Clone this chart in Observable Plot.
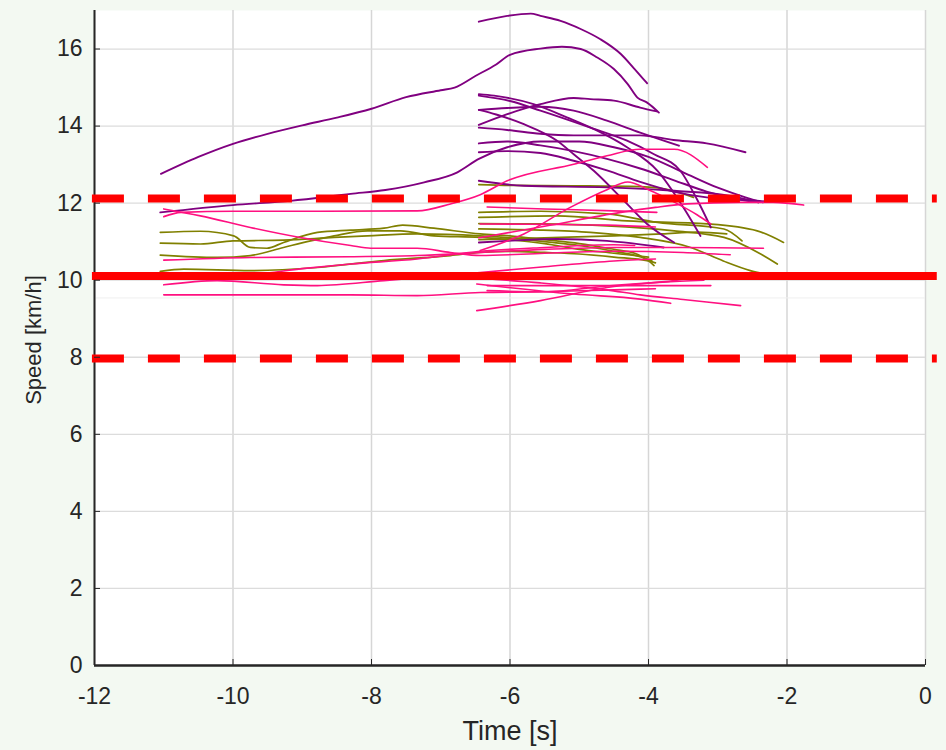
<!DOCTYPE html>
<html><head><meta charset="utf-8">
<script src="https://cdn.jsdelivr.net/npm/d3@7"></script>
<script src="https://cdn.jsdelivr.net/npm/@observablehq/plot@0.6"></script>
<style>
html,body{margin:0;padding:0;background:#f3f9f2;}
#chart svg{display:block;}
</style></head><body><div id="chart"></div>
<script>
// ---- tick labels ----
const xTicks = [-12, -10, -8, -6, -4, -2, 0];
const yTicks = [0, 2, 4, 6, 8, 10, 12, 14, 16];
const xTitle = ["Time [s]"];
const yTitle = ["Speed [km/h]"];

// ---- reference levels [km/h] ----
const meanSpeed = 10.11;
const upperBand = 12.12;
const lowerBand = 7.97;
const faintLevel = 9.54;
const refSpan = [-12.03, 0.17];

// ---- runs: [time s, speed km/h] ----
const purpleRuns = [
  [[-6.45,16.71],[-6.04,16.86],[-5.70,16.92],[-5.56,16.86],[-5.27,16.73],[-4.98,16.52],[-4.70,16.26],[-4.40,15.87],[-4.22,15.52],[-4.02,15.11]],
  [[-11.04,12.76],[-10.5,13.2],[-10,13.54],[-9.5,13.8],[-9,14.02],[-8.5,14.22],[-8,14.45],[-7.5,14.75],[-7.0,14.93],[-6.8,15.0],[-6.5,15.3],[-6.2,15.6],[-6.0,15.85],[-5.56,16.01],[-5.25,16.06],[-4.98,16.0],[-4.74,15.78],[-4.5,15.48],[-4.3,15.09],[-4.16,14.74],[-4.02,14.61],[-3.85,14.35]],
  [[-11.05,11.76],[-10,11.95],[-9.17,12.06],[-8.3,12.24],[-7.8,12.34],[-7.24,12.54],[-6.76,12.8],[-6.45,13.15],[-6.04,13.45],[-5.56,13.6],[-5.0,13.6],[-4.5,13.45],[-4.0,13.2],[-3.5,12.8],[-3.0,12.4],[-2.6,12.15],[-2.35,12.02]],
  [[-6.45,14.42],[-6.2,14.3],[-5.8,14.05],[-5.32,13.62],[-5.08,13.27],[-4.79,12.84],[-4.31,11.98],[-4.02,11.46],[-3.63,10.98]],
  [[-6.45,14.83],[-6.23,14.79],[-5.66,14.57],[-5.17,14.22],[-4.74,13.88],[-4.31,13.45],[-3.87,12.84],[-3.5,11.9],[-3.25,11.15]],
  [[-6.45,14.79],[-6.0,14.65],[-5.56,14.4],[-4.84,13.96],[-4.31,13.62],[-3.92,13.27],[-3.54,12.84],[-3.3,12.1],[-3.1,11.37]],
  [[-6.45,14.42],[-6.04,14.47],[-5.56,14.5],[-5.08,14.4],[-4.6,14.14],[-4.12,13.83],[-3.56,13.49]],
  [[-6.45,14.03],[-6.04,14.31],[-5.56,14.57],[-5.08,14.73],[-4.84,14.70],[-4.50,14.66],[-4.12,14.48],[-3.88,14.38]],
  [[-6.45,13.96],[-6.04,13.9],[-5.56,13.8],[-5.08,13.76],[-4.6,13.76],[-4.12,13.76],[-3.64,13.64],[-3.16,13.55],[-2.6,13.32]],
  [[-6.45,13.55],[-6.04,13.6],[-5.56,13.5],[-5.08,13.35],[-4.6,13.15],[-4.12,12.9],[-3.64,12.6],[-3.16,12.3],[-2.7,12.1],[-2.41,12.02]],
  [[-6.45,13.32],[-6.04,13.35],[-5.56,13.3],[-5.08,13.1],[-4.6,12.85],[-4.12,12.55],[-3.64,12.3],[-3.16,12.15],[-2.6,12.08],[-2.2,12.03]],
  [[-6.45,12.58],[-5.8,12.45],[-4.6,12.41],[-3.63,12.32],[-2.82,12.19],[-2.41,12.02]],
  [[-6.45,10.98],[-6.04,11.02],[-5.32,11.07],[-4.6,11.02],[-3.78,10.85]]
];

const oliveRuns = [
  [[-11.05,11.24],[-10.47,11.27],[-9.99,11.15],[-9.75,10.85],[-9.51,10.83],[-9.27,10.98],[-8.78,11.24],[-8.3,11.3],[-7.82,11.35],[-7.55,11.43],[-7.1,11.35],[-6.43,11.2],[-6.0,11.15],[-5.5,11.05],[-5.0,10.95],[-4.5,10.8],[-4.2,10.7],[-4.0,10.5],[-3.92,10.38]],
  [[-11.05,10.96],[-10.47,10.94],[-10,11.02],[-9.27,11.04],[-8.54,11.11],[-8.06,11.15],[-7.34,11.2],[-6.43,11.15],[-6.0,11.1],[-5.5,11.0],[-5.0,10.9],[-4.5,10.75],[-4.1,10.6],[-3.95,10.5]],
  [[-11.05,10.65],[-10.23,10.59],[-9.75,10.64],[-9.27,10.85],[-8.88,11.02],[-8.54,11.15],[-8.06,11.28],[-7.58,11.28],[-7.1,11.15],[-6.43,11.11],[-6.0,11.05],[-5.5,10.95],[-5.0,10.8],[-4.5,10.7],[-4.0,10.6]],
  [[-11.05,10.23],[-10.71,10.29],[-9.75,10.25],[-8.78,10.33],[-7.82,10.51],[-6.86,10.64],[-6.43,10.72],[-6.0,10.75],[-5.5,10.72],[-5.0,10.68],[-4.5,10.6],[-4.0,10.5],[-3.9,10.45]],
  [[-6.45,12.48],[-6.0,12.46],[-5.08,12.45],[-4.12,12.43],[-3.64,12.32],[-3.35,12.15]],
  [[-6.45,11.76],[-5.56,11.79],[-4.6,11.72],[-3.87,11.5],[-2.91,11.33],[-2.65,11.02]],
  [[-6.45,11.63],[-5.32,11.67],[-4.31,11.54],[-3.15,11.46],[-2.43,11.28],[-2.05,10.98]],
  [[-6.45,11.47],[-5.56,11.46],[-4.6,11.41],[-3.63,11.28],[-2.91,11.11],[-2.38,10.68],[-2.14,10.42]],
  [[-6.45,11.33],[-5.56,11.3],[-4.84,11.24],[-4.12,11.11],[-3.39,10.85],[-2.92,10.5],[-2.53,10.25],[-2.3,10.15]],
  [[-6.45,11.05],[-5.5,11.1],[-4.5,11.15],[-3.8,11.2],[-3.3,11.25],[-2.87,11.2]],
  [[-6.45,10.1],[-5.5,10.08],[-4.5,10.05],[-4.2,10.05]]
];

const pinkRuns = [
  [[-11.0,11.85],[-10.47,11.67],[-9.75,11.37],[-9.03,11.11],[-8.3,10.9],[-8.01,10.83],[-7.34,10.83],[-6.86,10.72],[-6.43,10.64],[-5.5,10.7],[-4.5,10.75],[-3.5,10.72],[-2.82,10.66]],
  [[-11.0,11.65],[-10.75,11.76],[-10,11.79],[-8.78,11.79],[-7.34,11.8],[-6.86,11.98],[-6.43,12.22],[-6.04,12.58],[-5.08,13.01],[-4.6,13.23],[-4.12,13.4],[-3.63,13.4],[-3.15,12.93]],
  [[-11.0,10.52],[-9.75,10.59],[-8.3,10.61],[-7.34,10.64],[-6.43,10.72],[-5.5,10.8],[-4.5,10.85],[-3.5,10.85],[-2.34,10.83]],
  [[-11.0,10.12],[-9.75,10.15],[-9.0,10.3],[-8.3,10.42],[-7.34,10.55],[-6.43,10.75],[-5.5,10.85],[-4.5,10.92],[-4.2,10.9]],
  [[-11.0,9.88],[-10.23,9.99],[-9.27,9.88],[-8.78,9.86],[-7.82,9.99],[-6.43,10.2],[-5.5,10.35],[-4.5,10.5],[-3.9,10.55]],
  [[-11.0,9.62],[-9.75,9.62],[-8.3,9.62],[-7.34,9.6],[-6.43,9.68],[-5.5,9.7],[-4.5,9.75],[-3.9,9.78]],
  [[-6.33,11.9],[-5.5,11.85],[-4.5,11.8],[-3.88,11.76]],
  [[-6.43,11.46],[-5.5,11.45],[-4.6,11.43],[-3.9,11.38]],
  [[-6.43,10.77],[-5.8,11.2],[-5.13,11.89],[-4.6,12.35],[-4.3,12.55],[-4.0,12.35],[-3.6,12.0],[-3.3,11.7],[-3.1,11.46]],
  [[-6.45,11.1],[-5.5,11.4],[-4.4,11.76],[-3.9,11.89],[-3.44,11.98],[-2.67,12.02],[-2.2,12.02],[-1.76,11.95]],
  [[-6.45,10.05],[-5.56,9.93],[-4.6,9.75],[-4.12,9.62],[-3.5,9.5],[-2.67,9.34]],
  [[-6.48,9.9],[-5.08,9.64],[-4.12,9.51],[-3.68,9.4]],
  [[-6.33,9.86],[-5.0,9.86],[-4.0,9.86],[-3.1,9.86]],
  [[-6.48,9.21],[-5.56,9.47],[-4.6,9.81],[-3.63,9.99],[-3.1,10.12]],
  [[-6.33,9.73],[-5.5,9.7],[-4.6,9.85],[-3.8,9.95],[-3.2,10.0]]
];

const colors = {purple: "#800080", olive: "#808000", pink: "#ff1080"};

function toRows(runs, group) {
  return runs.flatMap((run, i) => run.map(([t, v]) => ({t, v, id: group + i})));
}
const purpleRows = toRows(purpleRuns, "p");
const oliveRows = toRows(oliveRuns, "o");
const pinkRows = toRows(pinkRuns, "k");

const ink = "#262626";
const font = "'Liberation Sans', Arial, Helvetica, sans-serif";

const chart = Plot.plot({
  width: 946,
  height: 750,
  marginLeft: 94,
  marginRight: 21,
  marginTop: 10,
  marginBottom: 85,
  style: {background: "#f3f9f2", fontFamily: font, color: ink, overflow: "visible"},
  x: {domain: [-12, 0]},
  y: {domain: [0, 17]},
  marks: [
    Plot.frame({fill: "white", stroke: null}),
    Plot.gridX(xTicks, {stroke: "#d6d6d6", strokeOpacity: 1, strokeWidth: 1.5}),
    Plot.gridY(yTicks, {stroke: "#dcdcdc", strokeOpacity: 1, strokeWidth: 1.3}),
    Plot.ruleY([faintLevel], {stroke: "#efefef", strokeWidth: 1}),
    Plot.line(oliveRows, {x: "t", y: "v", z: "id", stroke: colors.olive, strokeWidth: 1.7, curve: "monotone-x"}),
    Plot.line(purpleRows, {x: "t", y: "v", z: "id", stroke: colors.purple, strokeWidth: 1.9, curve: "monotone-x"}),
    Plot.line(pinkRows, {x: "t", y: "v", z: "id", stroke: colors.pink, strokeWidth: 1.6, curve: "monotone-x"}),
    Plot.ruleX([-12], {stroke: ink, strokeWidth: 2}),
    Plot.ruleY([0], {stroke: ink, strokeWidth: 2.5}),
    Plot.ruleY([upperBand, lowerBand], {x1: refSpan[0], x2: refSpan[1], stroke: "#ff0000", strokeWidth: 8, strokeDasharray: "32,24"}),
    Plot.ruleY([meanSpeed], {x1: refSpan[0], x2: refSpan[1], stroke: "#ff0000", strokeWidth: 8}),
    Plot.axisX(xTicks, {tickSize: -6, tickPadding: 28, label: null, fontSize: 23, stroke: ink, fill: ink, tickFormat: d => String(d)}),
    Plot.axisY(yTicks, {tickSize: -6, tickPadding: 18, label: null, fontSize: 23, stroke: ink, fill: ink, tickFormat: d => String(d)}),
    Plot.text(xTitle, {text: d => d, frameAnchor: "bottom", lineAnchor: "middle", textAnchor: "middle", dy: 66, fontSize: 27, fill: ink}),
    Plot.text(yTitle, {text: d => d, frameAnchor: "left", lineAnchor: "middle", textAnchor: "middle", rotate: -90, dx: -61, dy: 2, fontSize: 22, fill: ink})
  ]
});
document.getElementById("chart").appendChild(chart);
</script></body></html>
